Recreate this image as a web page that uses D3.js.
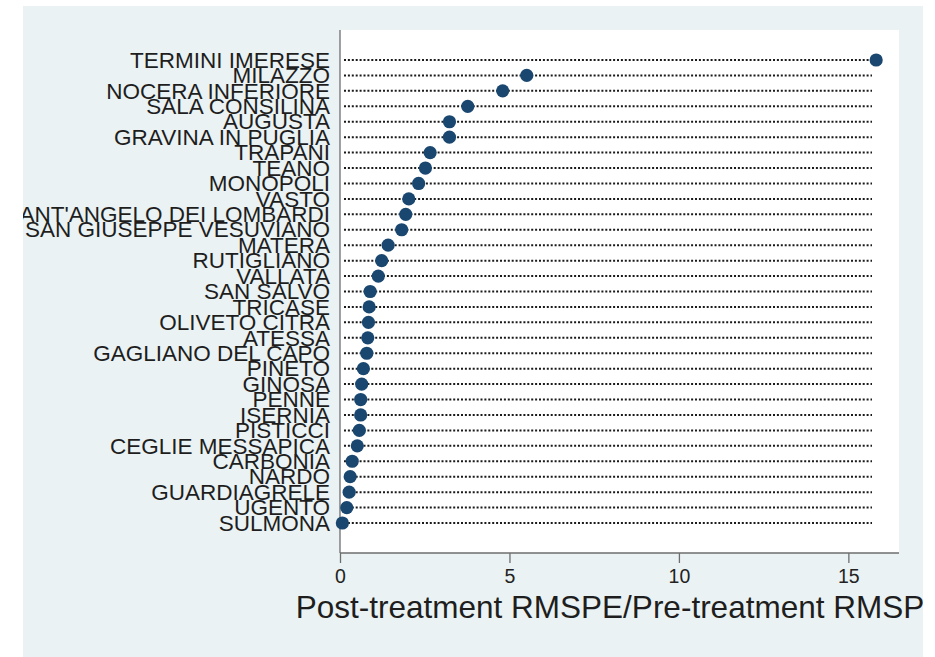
<!DOCTYPE html>
<html>
<head>
<meta charset="utf-8">
<script src="https://cdn.jsdelivr.net/npm/d3@7/dist/d3.min.js"></script>
<style>
  html, body { margin: 0; padding: 0; background: #ffffff; }
  svg { display: block; font-family: "Liberation Sans", Arial, sans-serif; }
</style>
</head>
<body>
<svg id="chart" width="935" height="657"></svg>
<script>
const categories = [
  "TERMINI IMERESE", "MILAZZO", "NOCERA INFERIORE", "SALA CONSILINA", "AUGUSTA",
  "GRAVINA IN PUGLIA", "TRAPANI", "TEANO", "MONOPOLI", "VASTO",
  "SANT'ANGELO DEI LOMBARDI", "SAN GIUSEPPE VESUVIANO", "MATERA", "RUTIGLIANO", "VALLATA",
  "SAN SALVO", "TRICASE", "OLIVETO CITRA", "ATESSA", "GAGLIANO DEL CAPO",
  "PINETO", "GINOSA", "PENNE", "ISERNIA", "PISTICCI",
  "CEGLIE MESSAPICA", "CARBONIA", "NARDO", "GUARDIAGRELE", "UGENTO", "SULMONA"
];
const ratios = [
  15.82, 5.51, 4.80, 3.77, 3.23,
  3.23, 2.66, 2.52, 2.32, 2.03,
  1.94, 1.82, 1.42, 1.23, 1.13,
  0.89, 0.86, 0.84, 0.82, 0.79,
  0.69, 0.64, 0.61, 0.61, 0.57,
  0.51, 0.36, 0.30, 0.27, 0.20, 0.07
];
const xTicks = [0, 5, 10, 15];
const xTitle = "Post-treatment RMSPE/Pre-treatment RMSPE";

const data = categories.map((c, i) => ({ name: c, value: ratios[i] }));

const svg = d3.select("#chart");

// outer graph region
const bg = { x: 23, y: 6, w: 900, h: 651 };
const plot = { left: 340, right: 899, top: 30, bottom: 553 };

svg.append("defs").append("clipPath").attr("id", "bgclip")
  .append("rect").attr("x", bg.x).attr("y", bg.y).attr("width", bg.w).attr("height", bg.h);

svg.append("rect")
  .attr("x", bg.x).attr("y", bg.y).attr("width", bg.w).attr("height", bg.h)
  .attr("fill", "#eaf2f3");

svg.append("rect")
  .attr("x", plot.left).attr("y", plot.top)
  .attr("width", plot.right - plot.left).attr("height", plot.bottom - plot.top)
  .attr("fill", "#ffffff");

const x = d3.scaleLinear().domain([0, 16.494]).range([plot.left, plot.right]);
const y = d3.scalePoint().domain(categories).range([60, 523]).padding(0);

const g = svg.append("g").attr("clip-path", "url(#bgclip)");

// dotted guide lines
g.append("g").selectAll("line").data(data).join("line")
  .attr("x1", plot.left + 4)
  .attr("x2", plot.right - 27)
  .attr("y1", d => y(d.name))
  .attr("y2", d => y(d.name))
  .attr("stroke", "#1a1a1a")
  .attr("stroke-width", 2)
  .attr("stroke-dasharray", "2 1.9");

// axes
const xAxis = d3.axisBottom(x).tickValues(xTicks).tickSize(10).tickPadding(6).tickFormat(d3.format("d"));
const xg = g.append("g").attr("transform", `translate(0,${plot.bottom})`).call(xAxis);
xg.select(".domain").attr("stroke", "#6e6e6e").attr("stroke-width", 1.3)
  .attr("d", `M${plot.left},0H${plot.right}`);
xg.selectAll(".tick line").attr("stroke", "#6e6e6e").attr("stroke-width", 1.3);
xg.selectAll(".tick text").attr("font-size", 19.5).attr("fill", "#222")
  .attr("font-family", "'Liberation Sans', Arial, sans-serif");

const yAxis = d3.axisLeft(y).tickSize(0).tickPadding(10);
const yg = g.append("g").attr("transform", `translate(${plot.left},0)`).call(yAxis);
yg.select(".domain").attr("stroke", "#6e6e6e").attr("stroke-width", 1.3)
  .attr("d", `M0,${plot.top}V${plot.bottom}`);
yg.selectAll(".tick text").attr("font-size", 22.5).attr("fill", "#1e1e1e")
  .attr("font-family", "'Liberation Sans', Arial, sans-serif");

// dots
g.append("g").selectAll("circle").data(data).join("circle")
  .attr("cx", d => x(d.value))
  .attr("cy", d => y(d.name))
  .attr("r", 6.6)
  .attr("fill", "#1a476f");

// x title
g.append("text")
  .attr("x", (plot.left + plot.right) / 2 + 1)
  .attr("y", 618)
  .attr("text-anchor", "middle")
  .attr("font-size", 31.5)
  .attr("fill", "#1e1e1e")
  .text(xTitle);
</script>
</body>
</html>
